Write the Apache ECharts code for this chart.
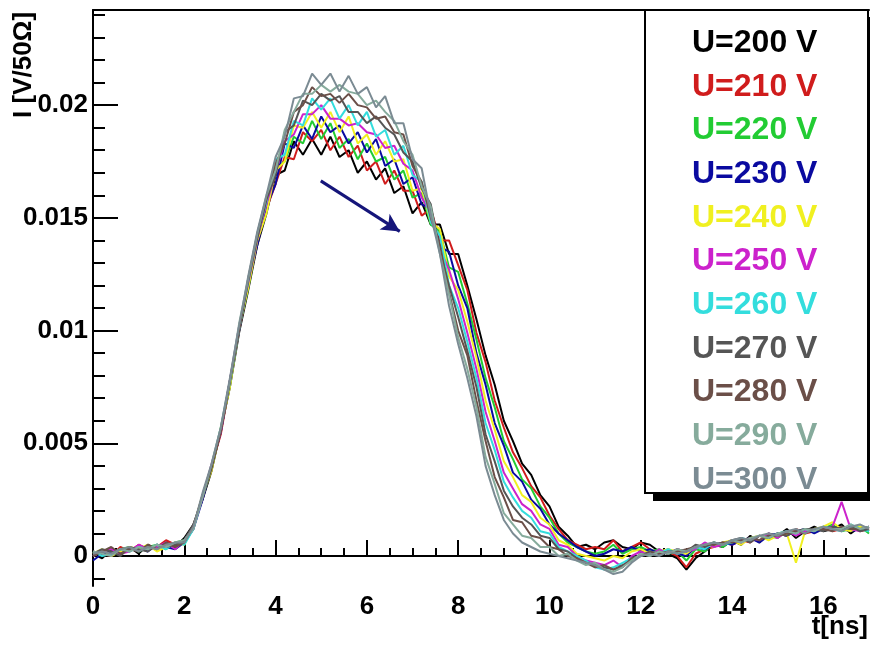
<!DOCTYPE html>
<html><head><meta charset="utf-8">
<script src="https://cdn.jsdelivr.net/npm/echarts@6/dist/echarts.min.js"></script>
<style>html,body{margin:0;padding:0;background:#fff}#c{width:870px;height:649px}</style>
</head><body><div id="c"></div><script>
// time grid [ns]
const t = [0,0.2,0.4,0.6,0.8,1,1.2,1.4,1.6,1.8,2,2.2,2.4,2.6,2.8,3,3.2,3.4,3.6,3.8,4,4.2,4.4,4.6,4.8,5,5.2,5.4,5.6,5.8,6,6.2,6.4,6.6,6.8,7,7.2,7.4,7.6,7.8,8,8.2,8.4,8.6,8.8,9,9.2,9.4,9.6,9.8,10,10.2,10.4,10.6,10.8,11,11.2,11.4,11.6,11.8,12,12.2,12.4,12.6,12.8,13,13.2,13.4,13.6,13.8,14,14.2,14.4,14.6,14.8,15,15.2,15.4,15.6,15.8,16,16.2,16.4,16.6,16.8,17];
// current values, in units of 1e-4 V/50Ohm
const UNIT = 1e-4;
const U200 = [1,-1,3,2,4,1,5,3,6,4, 8,14,25,38,56,75,99,118,138,152, 169,171,184,178,185,178,186,177,180,170, 175,167,172,161,164,152,157,147,147,134, 134,120,105,89,76,60,51,41,36,27, 22,13,9,4,5,3,6,7,4,3, 6,5,2,1,-1,-6,-1,2,5,4, 7,5,9,6,10,9,12,8,11,13, 11,12,14,10,13,11];
const U210 = [2,1,0,4,2,5,3,4,7,5, 6,12,27,40,54,77,100,120,139,154, 165,177,176,188,184,189,180,186,177,182, 171,175,165,171,162,162,151,154,140,140, 129,118,99,86,69,57,46,39,31,26, 18,12,7,5,3,4,3,7,2,4, 6,3,1,2,0,-5,1,3,4,6, 5,7,6,9,8,10,9,12,10,11, 13,11,12,13,11,12];
const U220 = [0,2,1,3,4,2,4,5,3,6, 7,13,26,39,56,76,101,119,140,153, 172,175,186,183,193,185,192,181,185,176, 183,175,177,167,171,159,161,147,144,128, 126,112,96,79,66,51,43,34,30,22, 17,10,6,4,2,1,2,5,1,3, 4,2,3,1,2,-2,3,2,6,4, 7,6,8,7,9,8,11,10,12,11, 12,14,11,12,13,10];
const U230 = [-2,1,2,1,3,4,2,5,4,3, 6,12,25,40,55,78,100,121,138,155, 165,183,181,191,185,195,188,191,183,188, 179,185,173,176,165,168,156,154,137,135, 120,110,90,76,59,49,37,33,25,21, 14,10,7,4,2,0,1,3,2,4, 2,3,1,3,1,0,4,3,5,6, 5,7,8,6,9,10,9,11,12,10, 12,13,12,11,12,13];
const U240 = [1,3,0,2,4,3,5,2,4,6, 5,13,27,38,57,75,101,119,140,152, 171,175,191,190,197,190,197,188,195,183, 187,178,184,175,176,162,163,148,145,124, 118,104,88,69,56,42,35,27,24,17, 14,7,5,1,0,-1,-2,0,-1,2, 3,1,2,3,2,1,4,5,4,6, 7,5,8,9,7,9,10,-3,11,12, 13,15,12,11,13,12];
const U250 = [0,2,3,1,2,5,3,4,6,3, 7,13,26,41,55,78,102,121,141,156, 170,184,187,196,196,200,194,194,191,192, 188,187,181,182,174,171,159,152,136,127, 114,99,83,64,51,37,30,23,20,14, 12,5,4,0,-2,-3,-4,-2,-5,0, 2,0,3,1,3,2,3,6,4,5, 7,6,8,7,10,8,11,9,11,12, 12,13,24,12,11,13];
const U260 = [2,0,1,3,2,4,3,5,3,6, 5,12,27,40,57,77,100,122,142,157, 176,178,193,191,203,198,203,194,200,191, 197,186,189,178,182,169,166,148,142,120, 110,95,79,59,47,33,26,20,17,11, 10,4,2,0,-2,-5,-6,-5,-3,-1, 0,2,1,3,1,2,4,3,6,5, 6,8,7,9,8,10,11,10,12,11, 13,12,11,14,12,11];
const U270 = [1,3,2,0,4,3,2,5,4,5, 7,14,26,39,56,77,101,122,141,158, 169,188,191,202,200,205,202,204,197,197, 192,195,190,187,179,175,163,156,135,120, 106,91,75,54,42,29,22,17,14,9, 8,3,2,-1,-3,-4,-5,-6,-4,-2, 1,0,2,1,3,2,5,4,6,5, 7,8,6,9,8,10,9,11,12,12, 11,13,12,13,11,12];
const U280 = [0,2,4,1,3,2,5,3,6,4, 6,13,27,40,55,78,100,123,143,159, 174,183,197,200,208,204,205,201,205,200, 199,194,195,188,187,173,166,150,138,117, 100,89,69,51,35,26,16,15,9,8, 4,3,0,-1,-3,-5,-4,-6,-5,-1, 0,2,1,2,2,3,4,5,5,6, 6,7,8,7,9,9,10,11,10,12, 12,11,13,12,12,13];
const U290 = [2,1,0,3,2,4,3,5,4,6, 7,12,26,41,57,78,103,123,143,160, 171,189,197,205,205,209,206,209,206,205, 200,202,197,193,184,178,164,155,134,116, 97,83,66,44,32,19,14,9,8,4, 4,0,1,-2,-4,-3,-6,-7,-5,-2, 1,0,2,1,3,2,4,5,6,5, 7,6,8,9,8,10,11,10,12,11, 13,12,12,14,12,13];
const U300 = [1,2,1,3,4,2,4,3,5,6, 6,13,28,41,57,79,102,124,144,160, 177,186,203,204,214,209,214,206,213,205, 208,199,204,192,192,176,172,151,134,111, 94,79,62,40,27,16,10,6,4,2, 1,0,-1,-2,-3,-4,-6,-8,-7,-3, 0,1,0,2,1,2,4,5,6,5, 7,8,7,9,10,9,11,12,10,12, 13,12,11,13,14,12];

const names = ['U=200 V','U=210 V','U=220 V','U=230 V','U=240 V','U=250 V','U=260 V','U=270 V','U=280 V','U=290 V','U=300 V'];
const colors = ['#000000','#d01c1c','#22cc33','#0a0aa0','#f0f020','#cc22cc','#33dddd','#555555','#6b4f48','#86ab9c','#7b8b93'];
const values = [U200,U210,U220,U230,U240,U250,U260,U270,U280,U290,U300];

const xMajor = [0,2,4,6,8,10,12,14,16];
const xMinor = [0.5,1,1.5,2.5,3,3.5,4.5,5,5.5,6.5,7,7.5,8.5,9,9.5,10.5,11,11.5,12.5,13,13.5,14.5,15,15.5,16.5];
const yMajor = [0,0.005,0.01,0.015,0.02];
const yMinor = [-0.001,0.001,0.002,0.003,0.004,0.006,0.007,0.008,0.009,0.011,0.012,0.013,0.014,0.016,0.017,0.018,0.019,0.021,0.022,0.023,0.024];
const arrowFrom = [4.99, 0.01664];
const arrowTo = [6.72, 0.01440];

const FONT = 'Liberation Sans';
const X_MIN = 0, X_MAX = 17, Y_MIN = -0.00133, Y_MAX = 0.02422;

const series = values.map((vals, i) => {
  const s = {
    type: 'line', name: names[i], showSymbol: false, symbol: 'none',
    data: vals.map((v, j) => [t[j], v * UNIT]),
    lineStyle: { color: colors[i], width: 2 },
    itemStyle: { color: colors[i] },
    silent: true, z: 2
  };
  if (i === values.length - 1) {
    s.markLine = {
      silent: true, symbol: ['none', 'arrow'], symbolSize: [14, 18],
      label: { show: false },
      lineStyle: { color: '#15157a', width: 3, type: 'solid' },
      data: [[{ coord: arrowFrom }, { coord: arrowTo }]]
    };
  }
  return s;
});

const axisCommon = { min: Y_MIN, max: Y_MAX };
const chart = echarts.init(document.getElementById('c'));
chart.setOption({
  animation: false,
  backgroundColor: '#fff',
  grid: { left: 93, right: 1, top: 10, bottom: 63, outerBoundsMode: 'none', containLabel: false },
  xAxis: [
    { type: 'value', min: X_MIN, max: X_MAX, position: 'bottom',
      axisLine: { show: true, lineStyle: { color: '#000', width: 2 } },
      axisTick: { show: true, inside: true, length: 16, customValues: xMajor, lineStyle: { color: '#000', width: 2 } },
      axisLabel: { show: true, customValues: xMajor, margin: 8, color: '#000', fontSize: 26, fontWeight: 'bold', fontFamily: FONT },
      splitLine: { show: false } },
    { type: 'value', min: X_MIN, max: X_MAX, position: 'bottom',
      axisLine: { show: false },
      axisTick: { show: true, inside: true, length: 8, customValues: xMinor, lineStyle: { color: '#000', width: 2 } },
      axisLabel: { show: false }, splitLine: { show: false } },
    { type: 'value', min: X_MIN, max: X_MAX, position: 'top',
      axisLine: { show: true, lineStyle: { color: '#000', width: 2 } },
      axisTick: { show: false }, axisLabel: { show: false }, splitLine: { show: false } }
  ],
  yAxis: [
    Object.assign({ type: 'value', position: 'left',
      axisLine: { show: true, lineStyle: { color: '#000', width: 2 } },
      axisTick: { show: true, inside: true, length: 25, customValues: yMajor, lineStyle: { color: '#000', width: 2 } },
      axisLabel: { show: true, customValues: yMajor, margin: 5, color: '#000', fontSize: 26, fontWeight: 'bold', fontFamily: FONT,
        formatter: v => String(v) },
      splitLine: { show: false } }, axisCommon),
    Object.assign({ type: 'value', position: 'left',
      axisLine: { show: false },
      axisTick: { show: true, inside: true, length: 12, customValues: yMinor, lineStyle: { color: '#000', width: 2 } },
      axisLabel: { show: false }, splitLine: { show: false } }, axisCommon)
  ],
  legend: {
    orient: 'vertical', left: 645, top: 10, padding: [17, 51, 0, 42], z: 8,
    itemGap: 11.7, itemWidth: 0, itemHeight: 0, selectedMode: false,
    backgroundColor: 'transparent', borderWidth: 0,
    textStyle: { fontSize: 32, fontWeight: 'bold', fontFamily: FONT, lineHeight: 32 },
    data: names.map((n, i) => ({ name: n, icon: 'rect', textStyle: { color: colors[i] } }))
  },
  graphic: {
    elements: [
      { type: 'rect', id: 'legendShadowFill', z: 5, silent: true,
        shape: { x: 645, y: 10, width: 223, height: 483 },
        style: { fill: '#ffffff', shadowColor: '#000000', shadowBlur: 0, shadowOffsetX: 8, shadowOffsetY: 7 } },
      { type: 'line', id: 'legendShadowBottom', z: 6, silent: true,
        shape: { x1: 653, y1: 497.5, x2: 875, y2: 497.5 },
        style: { stroke: '#000000', lineWidth: 7 } },
      { type: 'rect', id: 'legendFrame', z: 7, silent: true,
        shape: { x: 645, y: 10, width: 223, height: 483 },
        style: { fill: 'transparent', stroke: '#000000', lineWidth: 2 } },
      { type: 'text', id: 'yTitle', x: 11, y: 118, rotation: Math.PI / 2, silent: true,
        style: { text: 'I [V/50Ω]', font: 'bold 26px "Liberation Sans"', fill: '#000',
          align: 'left', verticalAlign: 'top', textAlign: 'left', textVerticalAlign: 'top' } },
      { type: 'text', id: 'xTitle', x: 868, y: 627, silent: true,
        style: { text: 't[ns]', font: 'bold 26px "Liberation Sans"', fill: '#000',
          align: 'right', verticalAlign: 'middle', textAlign: 'right', textVerticalAlign: 'middle' } }
    ]
  },
  series: series
});
</script></body></html>
